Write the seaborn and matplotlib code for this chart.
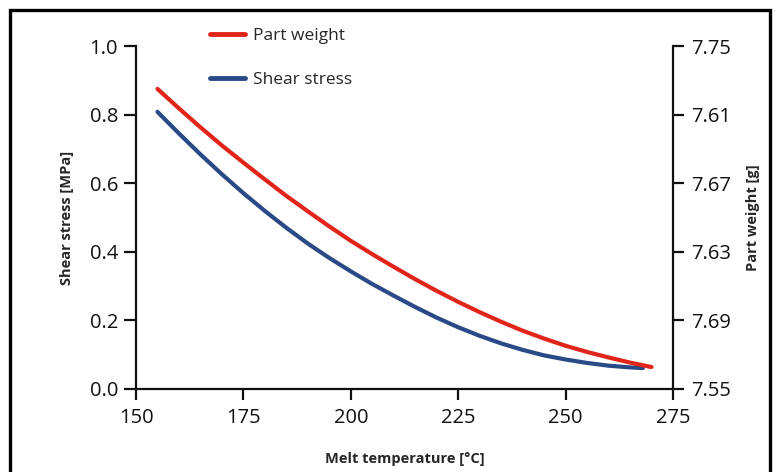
import matplotlib
matplotlib.use('Agg')
import matplotlib.pyplot as plt
import seaborn as sns
import pandas as pd
from matplotlib.lines import Line2D
from matplotlib.patches import Rectangle

# data
weight_temp = [155, 160, 165, 170, 175, 180, 185, 190, 195, 200, 205, 210,
               215, 220, 225, 230, 235, 240, 245, 250, 255, 260, 265, 270]
part_weight = [7.7250, 7.7136, 7.7026, 7.6920, 7.6820, 7.6722, 7.6626, 7.6536,
               7.6448, 7.6364, 7.6286, 7.6212, 7.6140, 7.6072, 7.6008, 7.5948,
               7.5892, 7.5840, 7.5794, 7.5752, 7.5716, 7.5684, 7.5654, 7.5628]

stress_temp = [155, 160, 165, 170, 175, 180, 185, 190, 195, 200, 205, 210,
               215, 220, 225, 230, 235, 240, 245, 250, 255, 260, 265, 268]
shear_stress = [0.808, 0.745, 0.684, 0.626, 0.571, 0.519, 0.470, 0.424,
                0.382, 0.343, 0.306, 0.272, 0.239, 0.208, 0.180, 0.155,
                0.133, 0.114, 0.098, 0.086, 0.076, 0.068, 0.063, 0.061]

x_ticks = [150, 175, 200, 225, 250, 275]
left_ticks = [0.0, 0.2, 0.4, 0.6, 0.8, 1.0]
right_ticks = [7.55, 7.59, 7.63, 7.67, 7.71, 7.75]
right_tick_labels = ['7.55', '7.69', '7.63', '7.67', '7.61', '7.75']

RED = '#e1251b'
BLUE = '#2a4987'

sns.set_style('ticks')
plt.rcParams['font.family'] = ['Open Sans', 'DejaVu Sans']

fig = plt.figure(figsize=(7.76, 4.72), dpi=100)
ax = fig.add_axes([136 / 776, 83 / 472, 537 / 776, 343 / 472])
ax2 = ax.twinx()

df_s = pd.DataFrame({'temp': stress_temp, 'value': shear_stress})
df_w = pd.DataFrame({'temp': weight_temp, 'value': part_weight})
sns.lineplot(data=df_s, x='temp', y='value', ax=ax, color=BLUE, lw=3.0)
sns.lineplot(data=df_w, x='temp', y='value', ax=ax2, color=RED, lw=3.0)

ax.set_xlim(150, 275)
ax.set_ylim(0, 1)
ax2.set_ylim(7.55, 7.75)
ax.set_xticks(x_ticks)
ax.set_yticks(left_ticks)
ax.set_yticklabels([f'{t:.1f}' for t in left_ticks])
ax2.set_yticks(right_ticks)
ax2.set_yticklabels(right_tick_labels)

for a in (ax, ax2):
    a.spines['top'].set_visible(False)
    for s in a.spines.values():
        s.set_linewidth(1.6)
        s.set_color('#111111')
ax.spines['right'].set_visible(False)
ax2.spines['left'].set_visible(False)
ax2.spines['bottom'].set_visible(False)

ax.tick_params(axis='x', direction='out', length=8, width=1.6, pad=6, labelsize=14.5, colors='#111111')
ax.tick_params(axis='y', direction='out', length=9, width=1.6, pad=4, labelsize=14.5, colors='#111111')
ax2.tick_params(axis='y', direction='out', length=8, width=1.6, pad=5, labelsize=14.5, colors='#111111')

ax.set_xlabel('Melt temperature [°C]', fontsize=10.5, fontweight='bold', labelpad=17)
ax.set_ylabel('Shear stress [MPa]', fontsize=10.5, fontweight='bold', labelpad=11)
ax2.set_ylabel('Part weight [g]', fontsize=10.5, fontweight='bold', labelpad=11)

handles = [Line2D([], [], color=RED, lw=3.5), Line2D([], [], color=BLUE, lw=3.5)]
ax.legend(handles, ['Part weight', 'Shear stress'], loc='upper left',
          bbox_to_anchor=(210 / 776, 1 - 28 / 472), bbox_transform=fig.transFigure,
          frameon=False, fontsize=12.5, handlelength=2.0, handletextpad=0.45,
          labelspacing=1.6, borderpad=0, borderaxespad=0)

# scanned page frame
fig.add_artist(Rectangle((10 / 776, -0.1), 760 / 776, 1.1 - 10 / 472,
                         transform=fig.transFigure, fill=False, lw=2.4,
                         edgecolor='black', clip_on=False))

plt.savefig('out.png', dpi=100)
plt.close()
